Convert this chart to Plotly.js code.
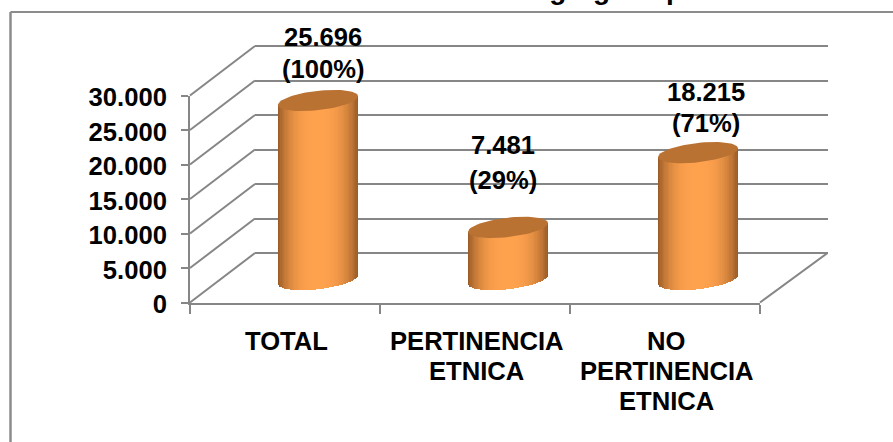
<!DOCTYPE html>
<html>
<head>
<meta charset="utf-8">
<script src="https://cdn.plot.ly/plotly-3.0.1.min.js"></script>
<style>html,body{margin:0;padding:0;background:#fff;overflow:hidden}</style>
</head>
<body>
<div id="chart" style="width:893px;height:442px"></div>
<script>
const categories = ['TOTAL', 'PERTINENCIA ETNICA', 'NO PERTINENCIA ETNICA'];
const categoryLines = [['TOTAL'], ['PERTINENCIA', 'ETNICA'], ['NO', 'PERTINENCIA', 'ETNICA']];
const values = [25696, 7481, 18215];
const valueLabels = ['25.696', '7.481', '18.215'];
const shareLabels = ['(100%)', '(29%)', '(71%)'];
const yTicks = [0, 5000, 10000, 15000, 20000, 25000, 30000];
const titleText = 'Gráfico Nº 1: Población total segregada por etnia';

const W = 893, H = 442;
const yMax = 30000;
const gray = '#868686';
const font = {family: 'Liberation Sans, Arial, sans-serif', size: 25.6, color: '#000', weight: 700};
const px = x => x / W, py = y => 1 - y / H;

// planes in pixels: front wall edge, back wall, and the mid plane holding the cylinders
const front = {x0: 190, x1: 760, y0: 302.5, y1: 95.5};
const back  = {x0: 255, x1: 827.5, y0: 253, y1: 46};
const mid   = {x0: 223, x1: 793, y0: 279.5, y1: 70.5};
const dom = p => ({x: [px(p.x0), px(p.x1)], y: [py(p.y0), py(p.y1)]});
// a y axis whose range and domain are padded equally, so scale is unchanged and nothing clips
const padded = (p, extraPx) => {
  const perPx = yMax / (p.y0 - p.y1);
  return {
    domain: [py(p.y0 + extraPx), py(p.y1 - extraPx)],
    range: [-extraPx * perPx, yMax + extraPx * perPx]
  };
};

const cats = [0, 1, 2];
const pxToVal = yMax / (mid.y0 - mid.y1);
const catPx = (mid.x1 - mid.x0) / 3;
const R = 40 / catPx, RY = 9.7 * pxToVal, TILT = 4.3 * pxToVal;

const traces = [];
traces.push({type: 'scatter', mode: 'none', x: [0], y: [0], xaxis: 'x', yaxis: 'y', hoverinfo: 'skip', showlegend: false});
traces.push({type: 'scatter', mode: 'none', x: cats, y: [0, 0, 0], xaxis: 'x2', yaxis: 'y2', hoverinfo: 'skip', showlegend: false});

// cylinder bodies: narrow vertical strips shaded across the width
const strips = 64;
const edge = [150, 88, 38], light = [255, 162, 78];
for (let i = 0; i < strips; i++) {
  const u = -1 + (i + 0.5) * 2 / strips;
  const s = Math.pow(Math.max(0, 1 - Math.pow(Math.abs(u), 2.6)), 0.9);
  const c = edge.map((e, k) => Math.round(e + (light[k] - e) * s));
  const sag = RY * Math.sqrt(1 - u * u);
  const bases = cats.map(() => TILT * u - sag);
  traces.push({
    type: 'bar', x: cats, base: bases,
    y: values.map((v, j) => v + TILT * u - bases[j]),
    width: 2.2 * R / strips, offset: R * u - 1.1 * R / strips,
    marker: {color: `rgb(${c})`, line: {width: 0}},
    xaxis: 'x3', yaxis: 'y3', hoverinfo: 'skip', showlegend: false
  });
}
// cylinder caps
values.forEach((v, j) => {
  const xs = [], ys = [];
  for (let a = 0; a <= 72; a++) {
    const t = a / 72 * 2 * Math.PI;
    xs.push(j + R * Math.cos(t));
    ys.push(v + TILT * Math.cos(t) + RY * Math.sin(t));
  }
  traces.push({
    type: 'scatter', mode: 'lines', x: xs, y: ys, fill: 'toself',
    fillcolor: '#B97232', line: {width: 0, color: '#B97232'},
    xaxis: 'x3', yaxis: 'y3', hoverinfo: 'skip', showlegend: false
  });
});

// side wall and floor edges joining front and back planes
const shapes = [];
const line = (x0, y0, x1, y1) => ({
  type: 'line', xref: 'paper', yref: 'paper', layer: 'below',
  x0: px(x0), y0: py(y0), x1: px(x1), y1: py(y1),
  line: {color: gray, width: 2}
});
yTicks.forEach(t => {
  const f = t / yMax;
  shapes.push(line(front.x0, front.y0 + (front.y1 - front.y0) * f,
                   back.x0, back.y0 + (back.y1 - back.y0) * f));
});
shapes.push(line(front.x1, front.y0, back.x1, back.y0));
// frame of the surrounding box
shapes.push({type: 'line', xref: 'paper', yref: 'paper', x0: px(10.5), x1: 1, y0: py(12), y1: py(12), line: {color: '#8c8c8c', width: 2}});
shapes.push({type: 'line', xref: 'paper', yref: 'paper', x0: px(10.5), x1: px(10.5), y0: py(12), y1: 0, line: {color: '#8c8c8c', width: 2.5}});

// value and share labels, anchored to the top of each cylinder
const note = (j, text, xs, ys) => ({
  xref: 'x3', yref: 'y3', x: j, y: values[j], text: text,
  showarrow: false, xanchor: 'center', yanchor: 'middle',
  xshift: xs, yshift: ys, font: font
});
const annotations = [];
const labelX = [5, -5, 8];
const upper = [63.5, 82, 60.6], lower = [31.5, 47, 29.6];
values.forEach((v, j) => {
  annotations.push(note(j, valueLabels[j], labelX[j], upper[j]));
  annotations.push(note(j, shareLabels[j], labelX[j], lower[j]));
});
// category labels, one annotation per line so the leading matches
categoryLines.forEach((lines, j) => lines.forEach((t, k) => annotations.push({
  xref: 'x2', yref: 'paper', x: j, y: py(341 + 30 * k), text: t,
  showarrow: false, xanchor: 'center', yanchor: 'middle', xshift: 1, font: font
})));
annotations.push({
  xref: 'paper', yref: 'paper', x: px(787), y: py(7), text: titleText,
  showarrow: false, xanchor: 'right', yanchor: 'bottom',
  font: Object.assign({}, font, {size: 28})
});

const df = dom(front), db = dom(back), dm = dom(mid);
const pb = padded(back, 3), pm = padded(mid, 30);
const layout = {
  width: W, height: H, autosize: false,
  margin: {l: 0, r: 0, t: 0, b: 0},
  paper_bgcolor: '#fff', plot_bgcolor: 'rgba(0,0,0,0)',
  showlegend: false, separators: ',.',
  bargap: 0, barmode: 'overlay',
  xaxis: {domain: db.x, range: [0, 1], visible: false, anchor: 'y', fixedrange: true},
  yaxis: {domain: pb.domain, range: pb.range, anchor: 'x', tickvals: yTicks, showgrid: true,
          gridcolor: gray, gridwidth: 2, showticklabels: false, ticks: '', zeroline: false,
          showline: false, fixedrange: true},
  xaxis2: {domain: df.x, anchor: 'y2', range: [-0.5, 2.5], tickvals: [-0.5, 0.5, 1.5, 2.5],
           showticklabels: false, ticks: 'outside', ticklen: 9, tickwidth: 2,
           tickcolor: gray, showline: true, linecolor: gray, linewidth: 2, showgrid: false,
           zeroline: false, automargin: false, fixedrange: true},
  yaxis2: {domain: df.y, anchor: 'x2', range: [0, yMax], tickvals: yTicks, tickformat: ',d',
           ticks: 'outside', ticklen: 7, tickwidth: 2, tickcolor: gray, showline: true,
           linecolor: gray, linewidth: 2, showgrid: false, zeroline: false,
           tickfont: font, automargin: false, fixedrange: true, ticklabelstandoff: 9, ticklabelshift: 2},
  xaxis3: {domain: dm.x, anchor: 'y3', range: [-0.5, 2.5], visible: false, fixedrange: true},
  yaxis3: {domain: pm.domain, anchor: 'x3', range: pm.range, visible: false, fixedrange: true},
  shapes: shapes, annotations: annotations
};
Plotly.newPlot('chart', traces, layout, {displayModeBar: false, staticPlot: true});
</script>
</body>
</html>
